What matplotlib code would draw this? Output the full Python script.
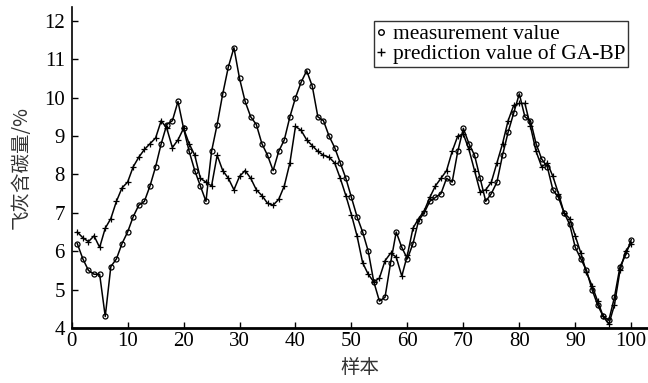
import matplotlib
matplotlib.use("Agg")
import matplotlib.pyplot as plt
from matplotlib.lines import Line2D

samples = list(range(1, 101))

measured = [
    6.2, 5.8, 5.5, 5.4, 5.4, 4.3, 5.6, 5.8, 6.2, 6.5,
    6.9, 7.2, 7.3, 7.7, 8.2, 8.8, 9.3, 9.4, 9.9, 9.2,
    8.6, 8.1, 7.7, 7.3, 8.6, 9.3, 10.1, 10.8, 11.3, 10.5,
    9.9, 9.5, 9.3, 8.8, 8.5, 8.1, 8.6, 8.9, 9.5, 10.0,
    10.4, 10.7, 10.3, 9.5, 9.4, 9.0, 8.7, 8.3, 7.9, 7.4,
    6.9, 6.5, 6.0, 5.2, 4.7, 4.8, 5.7, 6.5, 6.1, 5.8,
    6.2, 6.8, 7.0, 7.3, 7.4, 7.5, 7.9, 7.8, 8.6, 9.2,
    8.8, 8.5, 7.9, 7.3, 7.5, 7.8, 8.5, 9.1, 9.6, 10.1,
    9.5, 9.4, 8.8, 8.4, 8.2, 7.6, 7.4, 7.0, 6.7, 6.1,
    5.8, 5.5, 5.0, 4.6, 4.3, 4.2, 4.8, 5.6, 5.9, 6.3,
]

predicted = [
    6.5, 6.35, 6.25, 6.4, 6.1, 6.6, 6.85, 7.3, 7.65, 7.8,
    8.2, 8.45, 8.65, 8.8, 8.95, 9.4, 9.2, 8.7, 8.9, 9.2,
    8.8, 8.5, 7.9, 7.8, 7.7, 8.5, 8.1, 7.9, 7.6, 7.95,
    8.1, 7.9, 7.6, 7.45, 7.25, 7.2, 7.35, 7.7, 8.3, 9.25,
    9.15, 8.9, 8.75, 8.6, 8.5, 8.45, 8.3, 7.9, 7.45, 6.95,
    6.4, 5.7, 5.4, 5.2, 5.3, 5.75, 5.95, 5.85, 5.35, 5.9,
    6.6, 6.85, 7.05, 7.4, 7.7, 7.9, 8.1, 8.6, 9.0, 9.05,
    8.65, 8.1, 7.55, 7.6, 7.8, 8.3, 8.8, 9.4, 9.8, 9.85,
    9.85, 9.25, 8.6, 8.2, 8.3, 7.95, 7.5, 7.0, 6.85, 6.4,
    5.95, 5.45, 5.1, 4.7, 4.3, 4.1, 4.6, 5.5, 6.0, 6.2,
]

x_ticks = list(range(0, 101, 10))
y_ticks = list(range(4, 13))

plt.rcParams["font.family"] = ["Liberation Serif", "Noto Sans CJK SC"]

fig = plt.figure(figsize=(6.48, 3.83), dpi=100)
ax = fig.add_axes([0.1106, 0.1436, 0.8894, 0.838])

ax.plot(samples, measured, color="black", linewidth=1.1, marker="o",
        markersize=3.6, markerfacecolor="none", markeredgewidth=0.9)
ax.plot(samples, predicted, color="black", linewidth=1.1, marker="+",
        markersize=5, markeredgewidth=0.9)

ax.set_xlim(0, 103)
ax.set_ylim(4, 12.36)
ax.set_xticks(x_ticks)
ax.set_yticks(y_ticks)
ax.tick_params(direction="in", length=4, width=1, labelsize=15)
ax.tick_params(axis="x", pad=3)
ax.tick_params(axis="y", pad=5)

for side in ("top", "right"):
    ax.spines[side].set_visible(False)
ax.spines["left"].set_linewidth(1.2)
ax.spines["bottom"].set_linewidth(2)

ax.set_xlabel("样本", family=["Noto Sans CJK SC"], fontsize=14, labelpad=4,
              color="#333333")
ax.set_ylabel("飞灰含碳量/%", family=["Noto Sans CJK SC"], fontsize=14,
              labelpad=9, color="#333333")

handles = [
    Line2D([], [], linestyle="none", marker="o", markersize=4,
           markerfacecolor="none", markeredgecolor="black"),
    Line2D([], [], linestyle="none", marker="+", markersize=6,
           markeredgecolor="black"),
]
leg = ax.legend(handles, ["measurement value", "prediction value of GA-BP"],
                loc="upper right", bbox_to_anchor=(0.966, 0.955),
                fontsize=15.5, frameon=True, fancybox=False, handlelength=0.5,
                handletextpad=0.3, borderpad=0.12, labelspacing=0.0,
                borderaxespad=0)
leg.get_frame().set_edgecolor("black")
leg.get_frame().set_linewidth(1)

fig.savefig("out.png", dpi=100)
